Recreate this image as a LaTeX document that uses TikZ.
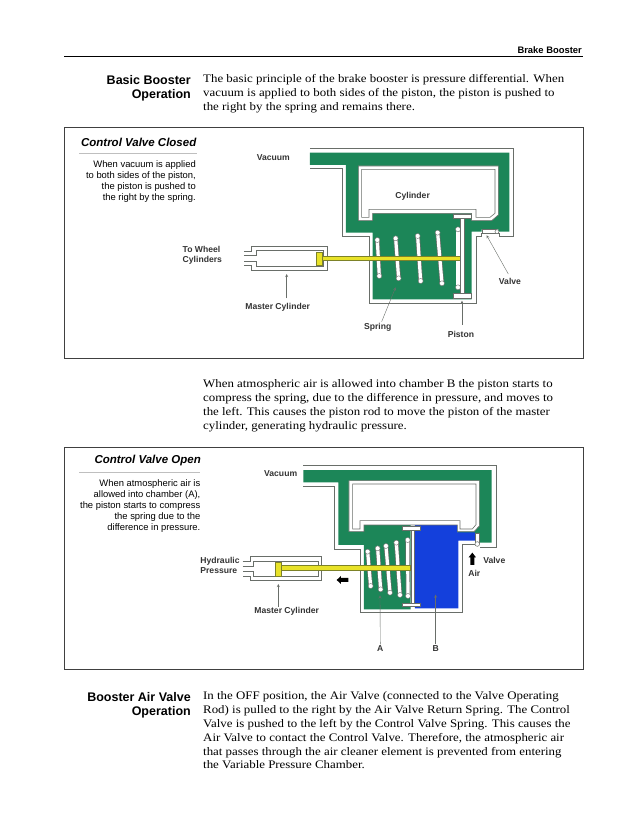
\documentclass[tikz,border=0pt]{standalone}
\usepackage{fontspec}
\setmainfont[FakeStretch=1.12]{Liberation Serif}
\setsansfont{Liberation Sans}
\definecolor{chamber}{RGB}{28,134,88}
\definecolor{airblue}{RGB}{20,64,220}
\definecolor{rodyellow}{RGB}{232,226,40}
\definecolor{rodedge}{RGB}{125,130,40}
\definecolor{wallgray}{RGB}{105,110,105}
\tikzset{
  bodytext/.style={anchor=north west,inner sep=0pt,align=left,font=\fontsize{11.5}{13.85}\selectfont},
  headtext/.style={anchor=north east,inner sep=0pt,align=right,font=\sffamily\bfseries\fontsize{12.5}{14.5}\selectfont},
  boxtitle/.style={anchor=east,inner sep=0pt,font=\sffamily\bfseries\itshape\fontsize{11.5}{12}\selectfont},
  boxtext/.style={anchor=north east,inner sep=0pt,align=right,font=\sffamily\fontsize{9.4}{11}\selectfont},
  partlabel/.style={inner sep=0pt,align=left,text=black!80,font=\sffamily\bfseries\fontsize{8.6}{10}\selectfont},
  wall/.style={draw=wallgray,line width=0.6pt},
  pointer/.style={draw=wallgray,line width=0.4pt,-stealth},
  rodpart/.style={fill=rodyellow,draw=rodedge,line width=0.6pt},
  pistonpart/.style={fill=white,draw=wallgray,line width=0.5pt},
  coilend/.style={fill=white,draw=wallgray,line width=0.4pt}
}
\begin{document}
\begin{tikzpicture}[x=1pt,y=-1pt]
  \useasboundingbox (0,0) rectangle (638,826);
  \node[anchor=east,inner sep=0pt,font=\sffamily\bfseries\fontsize{9.4}{10}\selectfont] (pagehead) at (582,50) {Brake Booster};
  \draw[line width=0.7pt] (64,56) -- (583,56);
  \node[headtext] (basichead) at (191,75) {Basic Booster\\Operation};
  \node[bodytext] (basictext) at (203,74.5) {The basic principle of the brake booster is pressure differential. When\\vacuum is applied to both sides of the piston, the piston is pushed to\\the right by the spring and remains there.};
  \draw[black!75,line width=0.9pt] (64,127.5) rectangle (583,358);
  \node[boxtitle] (closedtitle) at (196.5,142) {Control Valve Closed};
  \draw[black!25,line width=0.4pt] (79,153) -- (197,153);
  \node[boxtext] (closedtext) at (196,160.5) {When vacuum is applied\\to both sides of the piston,\\the piston is pushed to\\the right by the spring.};
  \begin{scope}[shift={(170,130)},x=0.3333pt,y=-0.3333pt]
    \draw[wall] (420,55) -- (1030,55) -- (1030,318) -- (988,318) -- (988,310) -- (935,310) -- (935,318) -- (918,318) -- (918,520) -- (597,520) -- (597,320) -- (516,320) -- (516,116) -- (420,116);
    \fill[chamber] (420,68) -- (1018,68) -- (1018,305) -- (985,305) -- (985,298) -- (935,298) -- (935,305) -- (905,305) -- (905,508) -- (608,508) -- (608,308) -- (528,308) -- (528,105) -- (420,105) -- cycle;
    \fill[white,draw=wallgray,line width=0.6pt] (565,108) -- (985,108) -- (985,255) -- (965,272) -- (905,272) -- (905,250) -- (608,250) -- (608,272) -- (565,272) -- cycle;
    \draw[wall] (575,118) -- (975,118) -- (975,250) -- (960,262) -- (918,262) -- (918,238) -- (597,238) -- (597,262) -- (575,262) -- cycle;
    \foreach \xa/\ya/\xb/\yb in {622/330/628/438,677/325/686/445,743/318/752/453,803/308/816/460,864/298/864/472} {
      \draw[wallgray,line width=4.6pt] (\xa,\ya) -- (\xb,\yb);
      \draw[white,line width=3.2pt] (\xa,\ya) -- (\xb,\yb);
      \draw[coilend] (\xa,\ya) circle (7.5);
      \draw[coilend] (\xb,\yb) circle (7.5);
    }
    \draw[wall] (222,364) -- (245,364) -- (245,350) -- (472,350) -- (472,421) -- (245,421) -- (245,405) -- (222,405);
    \draw[wall] (222,375) -- (258,375) -- (258,362) -- (460,362) -- (460,408) -- (258,408) -- (258,393) -- (222,393);
    \draw[rodpart] (458,378) rectangle (870,392);
    \draw[rodpart] (440,367) rectangle (458,407);
    \draw[pistonpart] (872,262) rectangle (882,495);
    \draw[pistonpart] (850,252) rectangle (905,266);
    \draw[pistonpart] (850,490) rectangle (905,506);
    \draw[pistonpart] (936,299) rectangle (978,309);
    \draw[pistonpart] (981,305) circle (6);
    \node[partlabel] (vacuuma) at (310,83) {Vacuum};
    \node[partlabel] (cylindera) at (728,198) {Cylinder};
    \node[partlabel] (wheela) at (97,375) {To Wheel\\Cylinders};
    \node[partlabel] (mastera) at (323,531) {Master Cylinder};
    \node[partlabel] (springa) at (623,592) {Spring};
    \node[partlabel] (pistona) at (873,612) {Piston};
    \node[partlabel] (valvea) at (1020,454) {Valve};
    \coordinate (mastertipa) at (350,432);
    \coordinate (springtipa) at (677,472);
    \coordinate (pistontipa) at (876,512);
    \coordinate (valvetipa) at (950,316);
    \draw[pointer] (350,505) -- (mastertipa);
    \draw[pointer] (635,575) -- (springtipa);
    \draw[pointer] (876,585) -- (pistontipa);
    \draw[pointer] (1015,432) -- (valvetipa);
  \end{scope}
  \node[bodytext] (opentext) at (203,379.5) {When atmospheric air is allowed into chamber B the piston starts to\\compress the spring, due to the difference in pressure, and moves to\\the left. This causes the piston rod to move the piston of the master\\cylinder, generating hydraulic pressure.};
  \draw[black!75,line width=0.9pt] (64,447) rectangle (583,669);
  \node[boxtitle] (opentitle) at (201,461) {Control Valve Open};
  \draw[black!25,line width=0.4pt] (79,472) -- (200,472);
  \node[boxtext] (openbox) at (200.5,479.5) {When atmospheric air is\\allowed into chamber (A),\\the piston starts to compress\\the spring due to the\\difference in pressure.};
  \begin{scope}[shift={(170,450)},x=0.3333pt,y=-0.3333pt]
    \draw[wall] (400,47) -- (978,47) -- (978,292) -- (930,292);
    \draw[wall] (400,108) -- (492,108) -- (492,297) -- (572,297) -- (572,488) -- (878,488) -- (878,284) -- (915,284);
    \fill[chamber] (400,60) -- (965,60) -- (965,278) -- (930,278) -- (930,250) -- (862,250) -- (862,225) -- (722,225) -- (722,478) -- (582,478) -- (582,285) -- (505,285) -- (505,97) -- (400,97) -- cycle;
    \fill[airblue] (735,225) -- (862,225) -- (862,247) -- (915,247) -- (915,272) -- (865,272) -- (865,475) -- (735,475) -- cycle;
    \fill[white,draw=wallgray,line width=0.6pt] (537,92) -- (928,92) -- (928,228) -- (912,245) -- (862,245) -- (862,225) -- (582,225) -- (582,245) -- (537,245) -- cycle;
    \draw[wall] (548,102) -- (918,102) -- (918,224) -- (907,237) -- (870,237) -- (870,212) -- (570,212) -- (570,237) -- (548,237) -- cycle;
    \foreach \xa/\ya/\xb/\yb in {593/305/602/408,623/295/632/418,648/288/660/428,679/278/690/435,713/270/714/438} {
      \draw[wallgray,line width=4.6pt] (\xa,\ya) -- (\xb,\yb);
      \draw[white,line width=3.2pt] (\xa,\ya) -- (\xb,\yb);
      \draw[coilend] (\xa,\ya) circle (7.5);
      \draw[coilend] (\xb,\yb) circle (7.5);
    }
    \draw[wall] (218,335) -- (240,335) -- (240,320) -- (455,320) -- (455,392) -- (240,392) -- (240,378) -- (218,378);
    \draw[wall] (218,349) -- (250,349) -- (250,333) -- (445,333) -- (445,380) -- (250,380) -- (250,365) -- (218,365);
    \draw[rodpart] (335,347) rectangle (720,362);
    \draw[rodpart] (315,336) rectangle (335,380);
    \draw[pistonpart] (723,240) rectangle (733,465);
    \draw[pistonpart] (697,230) rectangle (750,240);
    \draw[pistonpart] (697,460) rectangle (750,470);
    \draw[pistonpart] (915,250) rectangle (928,280);
    \draw[pistonpart] (922,282) circle (7);
    \fill[black] (535,384) -- (513,384) -- (513,378) -- (500,390) -- (513,402) -- (513,396) -- (535,396) -- cycle;
    \fill[black] (901,345) -- (901,322) -- (896,322) -- (907,308) -- (918,322) -- (913,322) -- (913,345) -- cycle;
    \node[partlabel] (vacuumb) at (332,72) {Vacuum};
    \node[partlabel] (hydraulicb) at (150,347) {Hydraulic\\Pressure};
    \node[partlabel] (masterb) at (350,485) {Master Cylinder};
    \node[partlabel] (valveb) at (973,332) {Valve};
    \node[partlabel] (airb) at (913,370) {Air};
    \node[partlabel] (chambera) at (631,597) {A};
    \node[partlabel] (chamberb) at (797,597) {B};
    \coordinate (mastertipb) at (325,402);
    \coordinate (tipa) at (630,436);
    \coordinate (tipb) at (797,434);
    \draw[pointer] (325,470) -- (mastertipb);
    \draw[pointer] (chambera.north) ++(0,-4) -- (tipa);
    \draw[pointer] (chamberb.north) ++(0,-4) -- (tipb);
  \end{scope}
  \node[headtext] (airhead) at (191,692) {Booster Air Valve\\Operation};
  \node[bodytext] (airtext) at (203,691.5) {In the OFF position, the Air Valve (connected to the Valve Operating\\Rod) is pulled to the right by the Air Valve Return Spring. The Control\\Valve is pushed to the left by the Control Valve Spring. This causes the\\Air Valve to contact the Control Valve. Therefore, the atmospheric air\\that passes through the air cleaner element is prevented from entering\\the Variable Pressure Chamber.};
\end{tikzpicture}
\end{document}
